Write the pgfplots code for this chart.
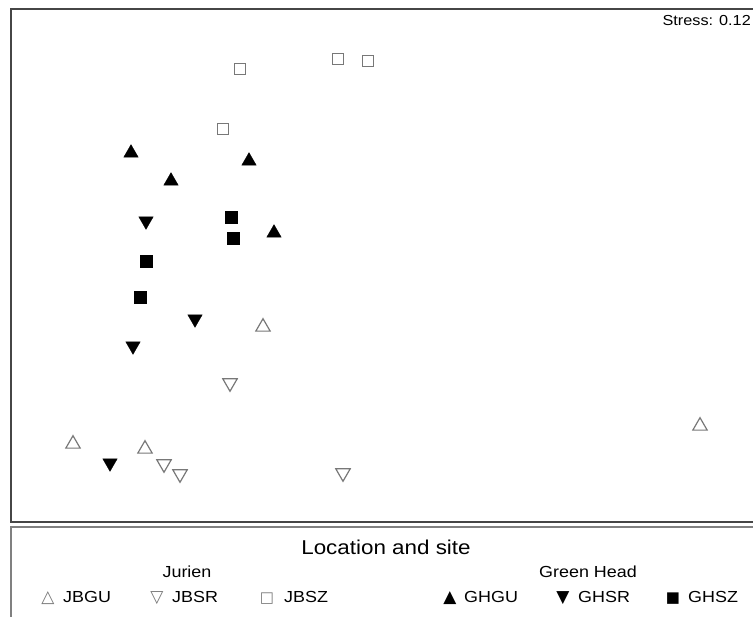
\documentclass[border=0pt]{standalone}
\usepackage{pgfplots}
\pgfplotsset{compat=1.18}
\usepackage{fontspec}
\setmainfont{Liberation Sans}[FakeStretch=1.12]
\newfontfamily\symfont{DejaVu Sans}
\definecolor{opengray}{RGB}{120,120,120}
\definecolor{framegray}{RGB}{70,70,70}
\begin{document}
\begin{tikzpicture}[x=1pt,y=1pt]
\useasboundingbox (0,0) rectangle (753,617);
\clip (0,0) rectangle (753,617);
\begin{axis}[at={(11,95)}, anchor=south west, scale only axis,
  width=760pt, height=513pt, xmin=11, xmax=771, ymin=-522, ymax=-9,
  ticks=none,
  axis line style={draw=framegray, line width=1.5pt}, clip=false]
% JBGU open up triangles
\addplot[only marks, mark=triangle, mark size=8.3pt, draw=opengray, line width=1.2pt]
  coordinates {(73,-444) (145,-449) (263,-327) (700,-426)};
% JBSR open down triangles
\addplot[only marks, mark=triangle, mark size=8.3pt, draw=opengray, line width=1.2pt, mark options={rotate=180}]
  coordinates {(164,-464) (180,-474) (230,-383) (343,-473)};
% JBSZ open squares
\addplot[only marks, mark=square, mark size=5.5pt, draw=opengray, line width=1.2pt]
  coordinates {(240,-69) (338,-59) (368,-61) (223,-129)};
% GHGU filled up triangles
\addplot[only marks, mark=triangle*, mark size=8.3pt, draw=black, fill=black]
  coordinates {(131,-153) (171,-181) (249,-161) (274,-233)};
% GHSR filled down triangles
\addplot[only marks, mark=triangle*, mark size=8.3pt, draw=black, fill=black, mark options={rotate=180}]
  coordinates {(146,-221) (195,-319) (133,-346) (110,-463)};
% GHSZ filled squares
\addplot[only marks, mark=square*, mark size=6pt, draw=black, fill=black]
  coordinates {(231,-217) (233,-238) (146,-261) (140,-297)};
\node[anchor=base east, inner sep=0pt, font=\fontsize{14.5}{16}\selectfont] at (axis cs:751,-26) {Stress: 0.12};
\end{axis}
% legend box
\draw[draw=gray, line width=1.5pt] (11,-20) rectangle (800,90);
\node[anchor=base, inner sep=0pt, font=\fontsize{20}{22}\selectfont] at (386,62) {Location and site};
\node[anchor=base, inner sep=0pt, font=\fontsize{16}{18}\selectfont] at (187,39) {Jurien};
\node[anchor=base, inner sep=0pt, font=\fontsize{16}{18}\selectfont] at (588,39) {Green Head};
\begin{scope}[every node/.style={anchor=base west, inner sep=0pt, font=\fontsize{16}{18}\selectfont}]
\node at (63,14) {JBGU};
\node at (172,14) {JBSR};
\node at (284,14) {JBSZ};
\node at (464,14) {GHGU};
\node at (578,14) {GHSR};
\node at (688,14) {GHSZ};
\end{scope}
\begin{scope}[every node/.style={anchor=base, inner sep=0pt, font=\symfont\fontsize{17}{20}\selectfont}]
\node[text=opengray] at (48,14) {△};
\node[text=opengray] at (157,14) {▽};
\node[text=opengray, font=\symfont\fontsize{15}{18}\selectfont] at (267,14) {□};
\node at (450,14) {▲};
\node at (563,14) {▼};
\node[font=\symfont\fontsize{15}{18}\selectfont] at (673,14) {■};
\end{scope}
\end{tikzpicture}
\end{document}
